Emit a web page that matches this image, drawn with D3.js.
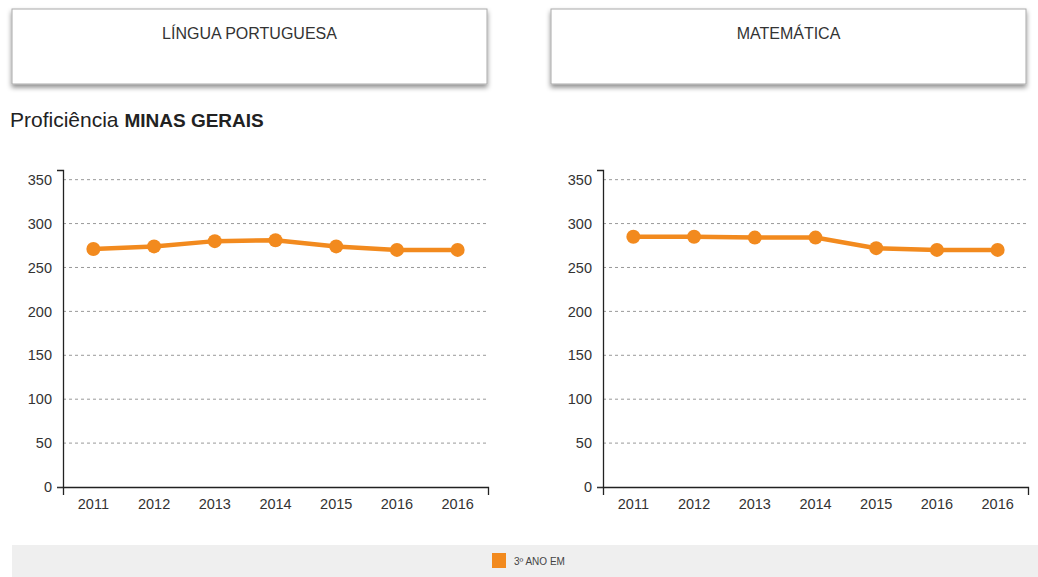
<!DOCTYPE html>
<html>
<head>
<meta charset="utf-8">
<script src="https://cdn.jsdelivr.net/npm/d3@7"></script>
<style>
  body { margin: 0; background: #fff; font-family: "Liberation Sans", Arial, sans-serif; }
  svg { display: block; }
</style>
</head>
<body>
<div id="chart"></div>
<script>
// data
const years = ['2011', '2012', '2013', '2014', '2015', '2016', '2016'];
const portugues = [271, 274, 280, 281, 274, 270, 270];
const matematica = [285, 285, 284, 284, 272, 270, 270];
const yTicks = [0, 50, 100, 150, 200, 250, 300, 350];
const subjects = ['LÍNGUA PORTUGUESA', 'MATEMÁTICA'];
const seriesName = '3º ANO EM';

const width = 1038, height = 577;
const orange = '#f28a1e';

const svg = d3.select('#chart').append('svg')
    .attr('width', width)
    .attr('height', height);

const defs = svg.append('defs');
const shadow = defs.append('filter').attr('id', 'shadow')
    .attr('x', '-5%').attr('y', '-10%').attr('width', '110%').attr('height', '140%');
shadow.append('feDropShadow')
    .attr('dx', 0).attr('dy', 3).attr('stdDeviation', 2.5)
    .attr('flood-color', '#000').attr('flood-opacity', 0.45);

// subject header boxes
const boxX = [12, 551];
subjects.forEach((s, i) => {
    svg.append('rect')
        .attr('x', boxX[i]).attr('y', 9)
        .attr('width', 475).attr('height', 75)
        .attr('fill', '#fff')
        .attr('stroke', '#aaa')
        .attr('filter', 'url(#shadow)');
    svg.append('text')
        .attr('x', boxX[i] + 237.5).attr('y', 39)
        .attr('text-anchor', 'middle')
        .attr('fill', '#333')
        .style('font-size', '16px')
        .text(s);
});

// title
const title = svg.append('text')
    .attr('x', 10).attr('y', 127)
    .attr('fill', '#222')
    .style('font-size', '21px');
title.append('tspan').text('Proficiência ');
title.append('tspan').attr('font-weight', 'bold').style('font-size', '19px').text('MINAS GERAIS');

// charts
const panels = [
    { left: 63, values: portugues },
    { left: 603, values: matematica }
];
const plotTop = 170, plotBottom = 487, plotW = 425;

const y = d3.scaleLinear().domain([0, 361]).range([plotBottom, plotTop]);

panels.forEach(p => {
    const g = svg.append('g');
    const x = d3.scaleBand()
        .domain(d3.range(years.length))
        .range([p.left, p.left + plotW]);
    const cx = i => x(i) + x.bandwidth() / 2;

    // grid lines
    g.selectAll('.grid')
        .data(yTicks.filter(d => d > 0))
        .enter().append('line')
        .attr('x1', p.left).attr('x2', p.left + plotW)
        .attr('y1', d => y(d)).attr('y2', d => y(d))
        .attr('stroke', '#999')
        .attr('stroke-dasharray', '3,3')
        .attr('stroke-width', 1);

    // y axis
    const ya = g.append('g')
        .attr('transform', `translate(${p.left},0)`)
        .call(d3.axisLeft(y).tickValues(yTicks).tickSizeInner(6).tickSizeOuter(6).tickPadding(5));
    ya.selectAll('text').style('font-size', '14.5px').attr('fill', '#333').attr('font-family', '"Liberation Sans", Arial, sans-serif');
    ya.selectAll('.tick line').attr('stroke', '#333').attr('opacity', d => d === 0 ? 1 : 0);
    ya.select('.domain').attr('stroke', '#222').attr('stroke-width', 1.3);

    // x axis
    const xa = g.append('g')
        .attr('transform', `translate(0,${plotBottom})`)
        .call(d3.axisBottom(x).tickFormat(i => years[i]).tickSizeInner(0).tickSizeOuter(8).tickPadding(12));
    xa.selectAll('text').style('font-size', '14.5px').attr('fill', '#333').attr('font-family', '"Liberation Sans", Arial, sans-serif');
    xa.select('.domain').attr('stroke', '#222').attr('stroke-width', 1.3);

    // line
    const line = d3.line()
        .x((d, i) => cx(i))
        .y(d => y(d));
    g.append('path')
        .datum(p.values)
        .attr('fill', 'none')
        .attr('stroke', orange)
        .attr('stroke-width', 4.5)
        .attr('d', line);

    g.selectAll('.dot')
        .data(p.values)
        .enter().append('circle')
        .attr('cx', (d, i) => cx(i))
        .attr('cy', d => y(d))
        .attr('r', 7)
        .attr('fill', orange);
});

// legend bar
svg.append('rect')
    .attr('x', 12).attr('y', 545)
    .attr('width', width - 12).attr('height', 32)
    .attr('fill', '#efefef');
svg.append('rect')
    .attr('x', 492).attr('y', 553)
    .attr('width', 14).attr('height', 15)
    .attr('fill', orange);
svg.append('text')
    .attr('x', 514).attr('y', 565)
    .attr('fill', '#444')
    .style('font-size', '10px')
    .text(seriesName);
</script>
</body>
</html>
